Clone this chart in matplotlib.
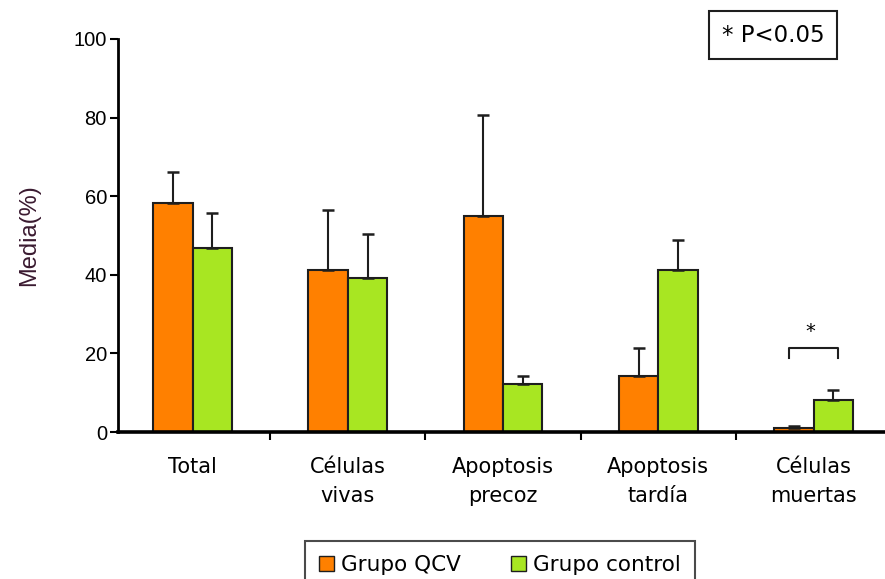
import numpy as np
import matplotlib.pyplot as plt
from matplotlib.patches import Patch

# mean (%) and upper SD for each cell population
categories = ["Total", "Células\nvivas", "Apoptosis\nprecoz", "Apoptosis\ntardía", "Células\nmuertas"]
qcv_mean = [58.2, 41.2, 55.0, 14.2, 1.0]
qcv_sd = [8.0, 15.4, 25.6, 7.2, 0.6]
control_mean = [46.9, 39.3, 12.1, 41.2, 8.1]
control_sd = [8.7, 11.2, 2.1, 7.7, 2.6]

orange = "#FF8000"
green = "#A8E622"
dark = "#1e1e1e"

fig = plt.figure(figsize=(8.85, 5.79), dpi=100)
ax = fig.add_axes([118 / 885, 147 / 579, 1 - 118 / 885, 393 / 579])

x = np.arange(len(categories))
w = 0.254
err_kw = dict(ecolor=dark, elinewidth=1.5, capsize=4, capthick=1.8)
ax.bar(x - w / 2, qcv_mean, w, color=orange, edgecolor=dark, linewidth=1.5,
       yerr=[np.zeros(len(x)), qcv_sd], error_kw=err_kw, zorder=2)
ax.bar(x + w / 2, control_mean, w, color=green, edgecolor=dark, linewidth=1.5,
       yerr=[np.zeros(len(x)), control_sd], error_kw=err_kw, zorder=2)

ax.set_xlim(-0.48, 4.46)
ax.set_ylim(0, 100)
ax.set_yticks(range(0, 101, 20))
ax.set_yticklabels([str(v) for v in range(0, 101, 20)], fontsize=14.5, family="Liberation Sans")
ax.set_ylabel("Media(%)", fontsize=17, family="Liberation Sans", color="#3a1a30", labelpad=24)

ax.set_xticks(x)
ax.set_xticklabels(categories, fontsize=15, linespacing=1.55)
ax.tick_params(axis="x", which="major", length=0, pad=18)
ax.set_xticks(x[:-1] + 0.5, minor=True)
ax.tick_params(axis="x", which="minor", length=6, width=1.5, direction="out")
ax.tick_params(axis="y", length=6, width=1.5, direction="out", pad=2)

for side in ["top", "right"]:
    ax.spines[side].set_visible(False)
ax.spines["left"].set_linewidth(2)
ax.spines["bottom"].set_linewidth(2.6)
ax.spines["bottom"].set_zorder(3)

# significance bracket over dead cells
i = 4
ax.plot([i - w / 2 - 0.03, i - w / 2 - 0.03, i + w / 2 + 0.03, i + w / 2 + 0.03],
        [18.8, 21.3, 21.3, 18.8], color=dark, lw=1.5)
ax.text(i - 0.02, 25.5, "*", ha="center", va="center", fontsize=14)

fig.text(773 / 885, 1 - 35 / 579, "* P<0.05", ha="center", va="center", fontsize=16.5,
         bbox=dict(boxstyle="square,pad=0.55", fc="white", ec=dark, lw=1.5))

handles = [Patch(facecolor=orange, edgecolor=dark, label="Grupo QCV"),
           Patch(facecolor=green, edgecolor=dark, label="Grupo control")]
leg = fig.legend(handles=handles, loc="upper center", bbox_to_anchor=(500 / 885, 1 - 541 / 579),
                 ncol=2, frameon=True, fancybox=False, fontsize=15.5, handlelength=0.7,
                 handleheight=0.7, handletextpad=0.35, columnspacing=2.3, borderpad=0.65,
                 borderaxespad=0)
leg.get_frame().set_edgecolor(dark)
leg.get_frame().set_linewidth(1.5)

fig.savefig("out.png", dpi=100)
